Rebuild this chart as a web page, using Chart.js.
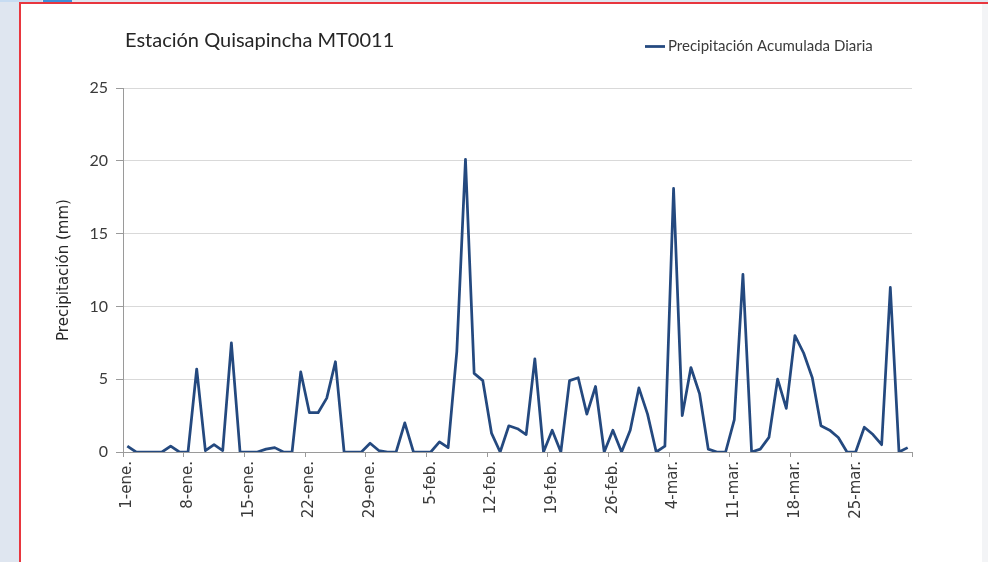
<!DOCTYPE html>
<html>
<head>
<meta charset="utf-8">
<script src="https://cdn.jsdelivr.net/npm/chart.js@4/dist/chart.umd.min.js"></script>
<style>
  html, body { margin: 0; padding: 0; width: 988px; height: 562px; overflow: hidden; background: #dfe6f0; }
  #frame { position: absolute; left: 19px; top: 2px; width: 1000px; height: 600px; box-sizing: border-box; border: 2px solid #e8363e; background: #ffffff; }
  #tab1 { position: absolute; left: 0; top: 0; width: 42px; height: 2px; background: #c7dcf2; }
  #tab2 { position: absolute; left: 43px; top: 0; width: 29px; height: 2px; background: #3d8fd8; }
  #rightband { position: absolute; left: 982px; top: 4px; width: 6px; height: 558px; background: #f3f4f6; }
  #wrap { position: absolute; left: 0; top: 0; width: 988px; height: 562px; }
</style>
</head>
<body>
<div id="tab1"></div><div id="tab2"></div>
<div id="frame"></div>
<div id="rightband"></div>
<div id="wrap"><canvas id="c" width="988" height="562"></canvas></div>
<script>
// ---- data ----
const chartTitle = 'Estación Quisapincha MT0011';
const seriesName = 'Precipitación Acumulada Diaria';
const yAxisTitle = 'Precipitación (mm)';
const months = ['ene.', 'feb.', 'mar.'];
const monthDays = [31, 29, 31];
const yTicks = [0, 5, 10, 15, 20, 25];
const labelEvery = 7;

// daily precipitation (mm), 1-ene. .. 31-mar.
const precipEne = [0.4, 0, 0, 0, 0, 0.4, 0, 0, 5.7, 0.1, 0.5, 0.1, 7.5, 0, 0, 0, 0.2, 0.3, 0, 0,
                   5.5, 2.7, 2.7, 3.7, 6.2, 0, 0, 0, 0.6, 0.1, 0];
const precipFeb = [0, 2.0, 0, 0, 0, 0.7, 0.3, 6.9, 20.1, 5.4, 4.9, 1.3, 0, 1.8, 1.6, 1.2, 6.4, 0, 1.5, 0,
                   4.9, 5.1, 2.6, 4.5, 0, 1.5, 0, 1.5, 4.4];
const precipMar = [2.6, 0, 0.4, 18.1, 2.5, 5.8, 4.0, 0.2, 0, 0, 2.2, 12.2, 0, 0.2, 1.0, 5.0, 3.0, 8.0, 6.8, 5.1,
                   1.8, 1.5, 1.0, 0, 0, 1.7, 1.2, 0.5, 11.3, 0, 0.3];

const categories = [];
months.forEach((m, i) => { for (let d = 1; d <= monthDays[i]; d++) categories.push(d + '-' + m); });
const values = precipEne.concat(precipFeb, precipMar);

const LINE = '#24497f';
const FONT = 'Lato, "Open Sans", sans-serif';
const VFONT = '"DejaVu Sans", Lato, sans-serif';
const TXT = '#3a3a3a';

const titleLegendPlugin = {
  id: 'titleLegend',
  afterDraw(chart) {
    const ctx = chart.ctx;
    ctx.save();
    ctx.fillStyle = '#262626';
    ctx.font = '20px ' + FONT;
    ctx.textBaseline = 'middle';
    ctx.textAlign = 'left';
    ctx.fillText(chartTitle, 125, 41);
    ctx.strokeStyle = LINE;
    ctx.lineWidth = 2.75;
    ctx.beginPath();
    ctx.moveTo(645, 46.5);
    ctx.lineTo(665, 46.5);
    ctx.stroke();
    ctx.fillStyle = TXT;
    ctx.font = '15px ' + FONT;
    ctx.fillText(seriesName, 668, 46.5);
    ctx.restore();
  }
};

new Chart(document.getElementById('c'), {
  type: 'line',
  data: {
    labels: categories,
    datasets: [{
      label: seriesName,
      data: values,
      borderColor: LINE,
      backgroundColor: LINE,
      borderWidth: 2.75,
      borderJoinStyle: 'round',
      pointRadius: 0,
      tension: 0,
      fill: false
    }]
  },
  options: {
    responsive: false,
    animation: false,
    devicePixelRatio: 1,
    layout: { padding: { left: 0, right: 76, top: 88, bottom: 0 } },
    plugins: {
      legend: { display: false },
      title: { display: false },
      tooltip: { enabled: false }
    },
    scales: {
      x: {
        type: 'category',
        offset: true,
        afterFit: s => { s.height = 110; },
        grid: {
          offset: true,
          drawOnChartArea: false,
          drawTicks: true,
          tickLength: 5,
          tickColor: ctx => (ctx.index === undefined || ctx.index % labelEvery === 0) ? '#9a9a9a' : 'rgba(0,0,0,0)',
          color: ctx => (ctx.index === undefined || ctx.index % labelEvery === 0) ? '#9a9a9a' : 'rgba(0,0,0,0)'
        },
        border: { display: true, color: '#9a9a9a', width: 1 },
        ticks: {
          autoSkip: false,
          minRotation: 90,
          maxRotation: 90,
          padding: 4,
          color: TXT,
          font: { family: VFONT, size: 15 },
          callback: function (v, i) { return i % labelEvery === 0 ? categories[i] : ''; }
        }
      },
      y: {
        min: 0,
        max: 25,
        afterFit: s => { s.width = 123; },
        afterBuildTicks: s => { s.ticks = yTicks.map(v => ({ value: v })); },
        grid: {
          color: '#d9d9d9',
          lineWidth: 1,
          tickLength: 7,
          tickColor: '#9a9a9a'
        },
        border: { display: true, color: '#9a9a9a', width: 1 },
        ticks: {
          padding: 8,
          color: TXT,
          font: { family: FONT, size: 16 }
        },
        title: {
          display: true,
          text: yAxisTitle,
          color: '#262626',
          font: { family: VFONT, size: 15 },
          padding: { top: 55, bottom: 0 }
        }
      }
    }
  },
  plugins: [titleLegendPlugin]
});
</script>
</body>
</html>
